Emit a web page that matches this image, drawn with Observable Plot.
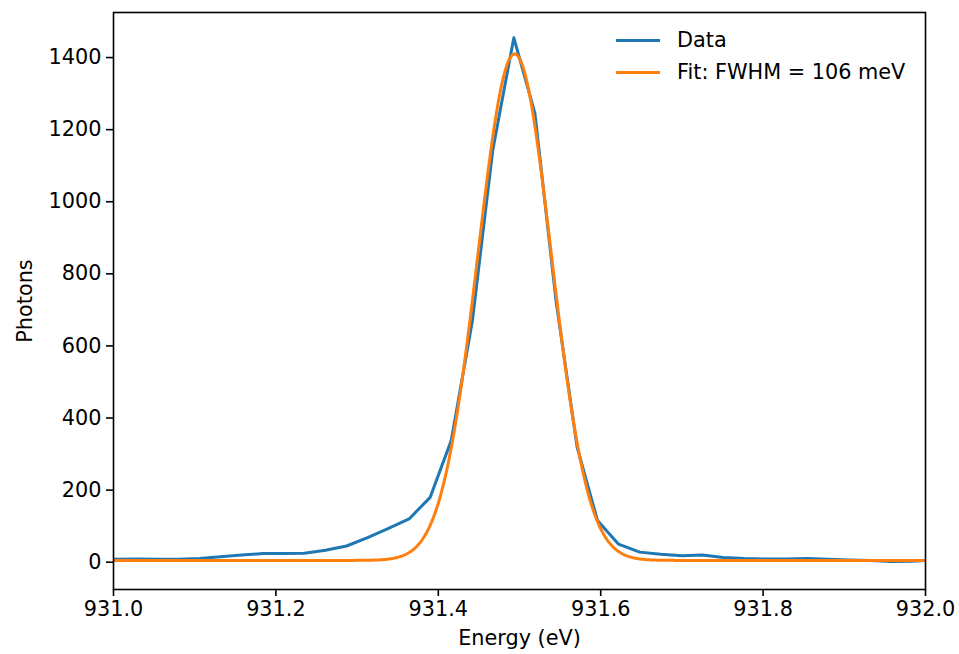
<!DOCTYPE html>
<html>
<head>
<meta charset="utf-8">
<script src="https://cdn.jsdelivr.net/npm/d3@7"></script>
<script src="https://cdn.jsdelivr.net/npm/@observablehq/plot@0.6"></script>
<style>
  body { margin: 0; background: #fff; }
  #wrap { position: relative; width: 959px; height: 654px; font-family: "DejaVu Sans", sans-serif; }
  #legend { position: absolute; left: 616px; top: 25px; font-size: 20.8px; color: #000; line-height: 31.5px; }
  #legend .row { display: flex; align-items: center; white-space: nowrap; }
  #legend .sw { width: 44px; height: 3px; margin-right: 17px; }
</style>
</head>
<body>
<div id="wrap"></div>
<script>
// Measured spectrum: photon counts per energy bin (eV)
const energy = [
  930.977, 931.003, 931.029, 931.054, 931.080, 931.106, 931.132, 931.158, 931.184, 931.209,
  931.235, 931.261, 931.287, 931.313, 931.338, 931.364, 931.390, 931.416, 931.442, 931.467,
  931.493, 931.519, 931.545, 931.571, 931.596, 931.622, 931.648, 931.674, 931.700, 931.725,
  931.751, 931.777, 931.803, 931.829, 931.854, 931.880, 931.906, 931.932, 931.958, 931.983,
  932.009
];
const photons = [
  8, 8, 9, 8, 8, 10, 15, 20, 24, 24,
  25, 33, 45, 68, 93, 120, 180, 338, 670, 1142,
  1455, 1245, 725, 319, 116, 50, 28, 22, 18, 20,
  13, 10, 9, 9, 10, 8, 6, 5, 2, 3,
  6
];

// Gaussian fit parameters
const fitCenter = 931.494;   // eV
const fitAmplitude = 1405;   // photons above offset
const fitOffset = 5;         // photons
const fitFWHM = 0.106;       // eV  (106 meV)

// Axis ticks
const xTicks = [931.0, 931.2, 931.4, 931.6, 931.8, 932.0];
const yTicks = [0, 200, 400, 600, 800, 1000, 1200, 1400];

const seriesNames = ["Data", `Fit: FWHM = ${Math.round(fitFWHM * 1000)} meV`];
const colors = ["#1f77b4", "#ff7f0e"];

const fs = 20.8;

const dataRows = energy.map((e, i) => ({e, p: photons[i]}));

// Evaluate the fitted Gaussian on a fine energy grid
const sigma = fitFWHM / (2 * Math.sqrt(2 * Math.log(2)));
const fitRows = d3.range(930.96, 932.02, 0.001).map(e => ({
  e,
  p: fitOffset + fitAmplitude * Math.exp(-((e - fitCenter) ** 2) / (2 * sigma ** 2))
}));

const chart = Plot.plot({
  width: 959,
  height: 654,
  marginLeft: 113,
  marginRight: 34,
  marginTop: 12,
  marginBottom: 65,
  style: {fontFamily: "DejaVu Sans, sans-serif", fontSize: fs + "px", color: "#000", background: "#fff"},
  x: {domain: [931.0, 932.0]},
  y: {domain: [-75.7, 1525]},
  marks: [
    Plot.line(dataRows, {x: "e", y: "p", stroke: colors[0], strokeWidth: 3, clip: true}),
    Plot.line(fitRows, {x: "e", y: "p", stroke: colors[1], strokeWidth: 3, clip: true}),
    Plot.frame({stroke: "#000", strokeWidth: 1.6}),
    Plot.axisX({ticks: xTicks, tickFormat: d3.format(".1f"), tickSize: 7, tickPadding: 5, strokeWidth: 1.6, label: null, fontSize: fs}),
    Plot.axisY({ticks: yTicks, tickFormat: d3.format("d"), tickSize: 7, tickPadding: 5, strokeWidth: 1.6, label: null, fontSize: fs}),
    Plot.text(["Energy (eV)"], {frameAnchor: "bottom", dy: 49, lineAnchor: "middle", textAnchor: "middle", fontSize: fs, fill: "#000"}),
    Plot.text(["Photons"], {frameAnchor: "left", dx: -88, rotate: -90, textAnchor: "middle", lineAnchor: "middle", fontSize: fs, fill: "#000"})
  ]
});

const wrap = document.getElementById("wrap");
wrap.appendChild(chart);

// Legend in the upper right of the axes
const legend = document.createElement("div");
legend.id = "legend";
seriesNames.forEach((name, i) => {
  const row = document.createElement("div");
  row.className = "row";
  const sw = document.createElement("span");
  sw.className = "sw";
  sw.style.background = colors[i];
  const label = document.createElement("span");
  label.textContent = name;
  row.appendChild(sw);
  row.appendChild(label);
  legend.appendChild(row);
});
wrap.appendChild(legend);
</script>
</body>
</html>
